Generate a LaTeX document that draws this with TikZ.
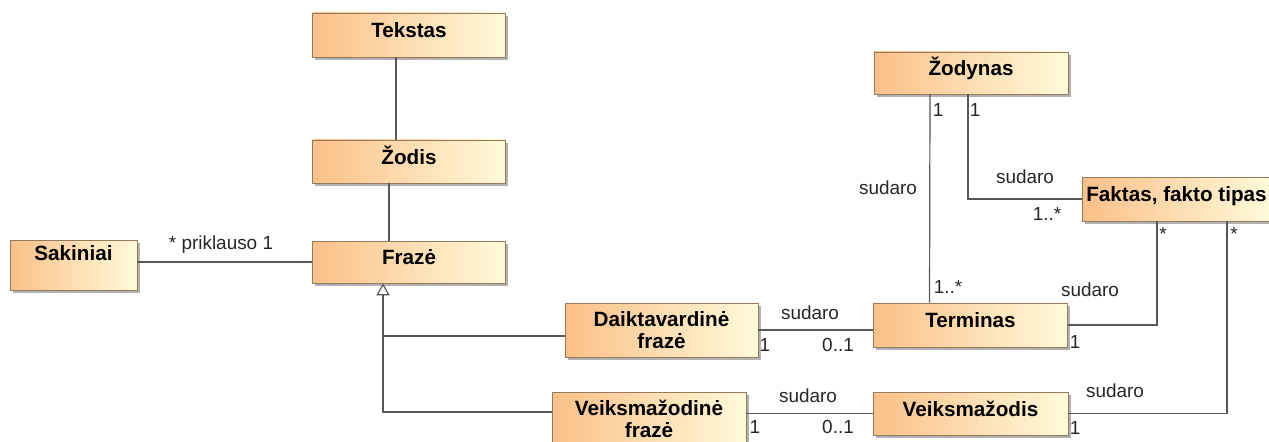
\documentclass[tikz,border=0pt]{standalone}
\usepackage{fontspec}
\setmainfont{Liberation Sans}
\usetikzlibrary{arrows.meta,shadows,calc}

\definecolor{boxorange}{RGB}{251,192,136}
\definecolor{boxcream}{RGB}{255,250,218}
\definecolor{boxedge}{RGB}{150,122,92}
\definecolor{linegray}{RGB}{88,88,88}

\begin{document}
\begin{tikzpicture}[x=0.75pt, y=-0.75pt]
			\tikzstyle{Class}  = [rectangle, draw=boxedge, line width=0.6pt, left color=boxorange, right color=boxcream,
			                      drop shadow={shadow xshift=2.2pt, shadow yshift=-2.2pt, fill=black!30, opacity=1},
			                      font=\fontsize{15.5}{17}\selectfont\bfseries, inner sep=0pt, align=center,
			                      minimum width=144.75pt, minimum height=33pt]
			\tikzstyle{Single} = [text height=11.5pt, text depth=7.5pt]
			\tikzstyle{Assoc}  = [linegray, line width=0.9pt]
			\tikzstyle{Role}   = [font=\fontsize{14.2}{16}\selectfont, inner sep=0pt, text=black!85]
			\tikzstyle{Gen}    = [-{Triangle[open, length=9pt, width=10pt]}]

			\useasboundingbox (0,0) rectangle (1269,442);

			% classes
			\node (tekstas)  at (409, 35)      [Class][Single] {Tekstas};
			\node (zodis)    at (409, 161.5)   [Class][Single, minimum height=32.25pt] {Žodis};
			\node (fraze)    at (409, 262)     [Class][Single, minimum height=31.5pt] {Frazė};
			\node (sakiniai) at (73.5, 265)    [Class, minimum width=95.25pt, text height=15.5pt, text depth=22pt] {Sakiniai};
			\node (zodynas)  at (971, 73)      [Class][Single, minimum width=145.5pt, minimum height=31.5pt] {Žodynas};
			\node (faktas)   at (1176.5, 199)  [Class][Single, minimum width=141.75pt] {Faktas, fakto tipas};
			\node (terminas) at (970.5, 325)   [Class][Single, minimum width=145.5pt] {Terminas};
			\node (veiksm)   at (970.5, 413.5) [Class][Single, minimum width=146.25pt, minimum height=32.25pt] {Veiksmažodis};
			\node (daikt)    at (661.5, 330)   [Class, minimum height=40.5pt] {Daiktavardinė\\frazė};
			\node (veiksmf)  at (649, 419)     [Class, minimum width=145.5pt, minimum height=40.5pt] {Veiksmažodinė\\frazė};

			% associations
			\draw [-] ($(tekstas.south)+(-13,0)$) to ($(zodis.north)+(-13,0)$) [Assoc];
			\draw [-] ($(zodis.south)+(-20,0)$) to ($(fraze.north)+(-20,0)$) [Assoc];
			\draw [-] (sakiniai.east |- fraze.west) to (fraze.west) [Assoc];
			\draw [-] (daikt.east) to (daikt.east -| terminas.west) [Assoc];
			\draw [-] (veiksmf.east |- veiksm.west) to (veiksm.west) [Assoc];
			\draw [-] ($(zodynas.south)+(-41,0)$) to ($(terminas.north)+(-41,0)$) [Assoc];
			\draw [-] ($(zodynas.south)+(-3,0)$) |- (faktas.west) [Assoc];
			\draw [-] ($(faktas.south)+(-19.5,0)$) |- (terminas.east) [Assoc];
			\draw [-] ($(faktas.south)+(50.5,0)$) |- (veiksm.east) [Assoc];

			% generalization
			\coordinate (gen) at ($(fraze.south)+(-26,0)$);
			\coordinate (dk)  at ($(daikt.west)+(0,6)$);
			\coordinate (vf)  at ($(veiksmf.west)+(0,-7)$);
			\draw (vf) -| (gen) [Assoc][Gen];
			\draw [-] (dk) to (gen |- dk) [Assoc];

			% roles and multiplicities
			\node (r1)  at (221, 245)  [Role] {* priklauso 1};
			\node (r2)  at (810, 313)  [Role] {sudaro};
			\node (r3)  at (765, 345)  [Role] {1};
			\node (r4)  at (838, 345)  [Role] {0..1};
			\node (r5)  at (808, 396)  [Role] {sudaro};
			\node (r6)  at (755, 427)  [Role] {1};
			\node (r7)  at (838, 427)  [Role] {0..1};
			\node (r8)  at (938, 110)  [Role] {1};
			\node (r9)  at (975, 110)  [Role] {1};
			\node (r10) at (888, 188)  [Role] {sudaro};
			\node (r11) at (1025, 177) [Role] {sudaro};
			\node (r12) at (1047, 214) [Role] {1..*};
			\node (r13) at (948, 287)  [Role] {1..*};
			\node (r14) at (1163, 234) [Role] {*};
			\node (r15) at (1234, 234) [Role] {*};
			\node (r16) at (1090, 290) [Role] {sudaro};
			\node (r17) at (1075, 342) [Role] {1};
			\node (r18) at (1115, 391) [Role] {sudaro};
			\node (r19) at (1075, 428) [Role] {1};
		\end{tikzpicture}
\end{document}
